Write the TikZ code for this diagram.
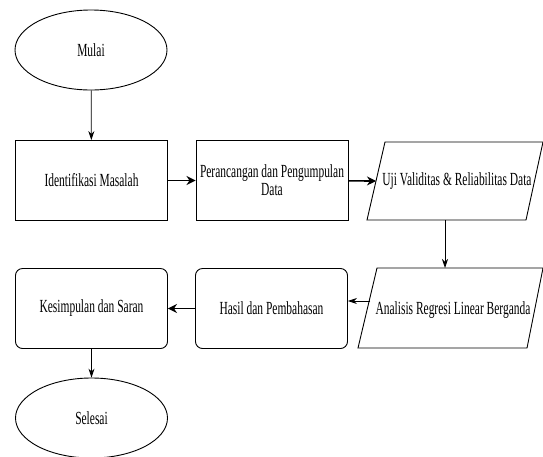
\documentclass[tikz,border=0pt]{standalone}
\usepackage{fontspec}
\setmainfont{Liberation Serif}[FakeStretch=0.62]
\usetikzlibrary{shapes.geometric,arrows.meta}
\begin{document}
\begin{tikzpicture}[x=1pt,y=-1pt,
  lbl/.style={font=\fontsize{18.5}{18}\selectfont},
  box/.style={lbl, draw, line width=0.9pt, minimum width=152pt, minimum height=80pt, inner sep=2pt, align=center},
  rbox/.style={box, rounded corners=7pt},
  term/.style={lbl, ellipse, draw, line width=0.9pt, minimum width=152pt, minimum height=80pt, inner sep=0pt},
  iotext/.style={lbl, inner sep=0pt},
  ioshape/.style={draw, line width=0.9pt},
  thinarrow/.style={draw, line width=0.8pt, -{Stealth[length=9pt,width=6pt]}},
  thickarrow/.style={draw, line width=1.6pt, -{Stealth[length=9pt,width=9pt]}}
]
\useasboundingbox (0,0) rectangle (543,456);
\fill[white] (0,0) rectangle (543,456);

\node[term] (mulai) at (91,50) {Mulai};
\node[box] (ident) at (91.5,180.5) {Identifikasi Masalah};
\node[box] (peran) at (272,180.5) {Perancangan dan Pengumpulan\\Data};

% parallelogram: Uji Validitas
\coordinate (ujiBL) at (367,220);
\coordinate (ujiBR) at (526,220);
\coordinate (ujiTR) at (543,142);
\coordinate (ujiTL) at (385,142);
\coordinate (ujiW) at (376,181);
\coordinate (ujiS) at (445,220);
\draw[ioshape] (ujiBL) -- (ujiBR) -- (ujiTR) -- (ujiTL) -- cycle;
\node[iotext] (uji) at (457,181) {Uji Validitas \& Reliabilitas Data};

% parallelogram: Analisis
\coordinate (anBL) at (358,348);
\coordinate (anBR) at (527,348);
\coordinate (anTR) at (543,268);
\coordinate (anTL) at (377,268);
\coordinate (anN) at (445,268);
\coordinate (anW) at (370,301);
\draw[ioshape] (anBL) -- (anBR) -- (anTR) -- (anTL) -- cycle;
\node[iotext] (anal) at (453,310) {Analisis Regresi Linear Berganda};

\node[rbox] (hasil) at (271.5,308.5) {Hasil dan Pembahasan};
\node[rbox] (kesim) at (91.5,308.5) {Kesimpulan dan Saran};
\node[term] (selesai) at (91.5,418) {Selesai};

\draw[thinarrow] (mulai) -- (ident);
\draw[thickarrow] (ident) -- (peran);
\draw[thickarrow] (peran) -- (ujiW);
\draw[thinarrow] (ujiS) -- (anN);
\draw[thinarrow] (anW) -- (anW -| hasil.east);
\draw[thickarrow] (hasil) -- (kesim);
\draw[thinarrow] (kesim) -- (selesai);
\end{tikzpicture}
\end{document}
